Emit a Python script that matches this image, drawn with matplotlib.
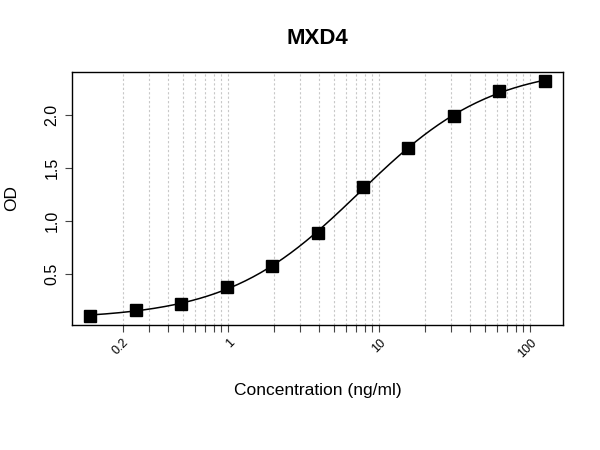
import numpy as np
from matplotlib import pyplot as plt
from matplotlib.ticker import FixedLocator, NullFormatter, NullLocator

plt.rcParams['font.family'] = ['Liberation Sans', 'DejaVu Sans']

# Standard curve data (two-fold dilutions)
conc = [0.122, 0.244, 0.488, 0.977, 1.953, 3.906, 7.8125, 15.625, 31.25, 62.5, 125]
od = [0.108, 0.159, 0.215, 0.375, 0.572, 0.888, 1.32, 1.69, 1.99, 2.227, 2.317]

grid_ticks = [0.2, 0.3, 0.4, 0.5, 0.6, 0.7, 0.8, 0.9, 1,
              2, 3, 4, 5, 6, 7, 8, 9, 10,
              20, 30, 40, 50, 60, 70, 80, 90, 100]
label_ticks = [0.2, 1, 10, 100]
label_text = ['0.2', '1', '10', '100']

x = np.array(conc)
y = np.array(od)

# 4PL fit: grid over slope and EC50, bottom/top by least squares
best = None
for b in np.linspace(0.3, 3, 271):
    for logc in np.linspace(-1, 3, 401):
        g = 1 / (1 + (x / 10**logc)**b)
        M = np.column_stack([g, 1 - g])
        coef, res, rk, sv = np.linalg.lstsq(M, y, rcond=None)
        err = np.sum((M @ coef - y)**2)
        if best is None or err < best[0]:
            best = (err, b, logc, coef)
_, b, logc, (bottom, top) = best

xs = np.logspace(np.log10(x.min()), np.log10(x.max()), 300)
gs = 1 / (1 + (xs / 10**logc)**b)
ys = bottom * gs + top * (1 - gs)

fig = plt.figure(figsize=(6, 4.5), dpi=100)
ax = fig.add_axes([0.12, 0.2778, 0.8183, 0.5622])

for t in grid_ticks:
    ax.axvline(t, color='#c8c8c8', lw=0.8, ls=(0, (2, 2)), zorder=0)

ax.plot(xs, ys, color='black', lw=1.1, zorder=2)
ax.plot(x, y, 's', color='black', ms=8, zorder=3)

ax.set_xscale('log')
lx = np.log10(x)
pad = 0.04 * (lx.max() - lx.min())
ax.set_xlim(10**(lx.min() - pad), 10**(lx.max() + pad))
pady = 0.04 * (y.max() - y.min())
ax.set_ylim(y.min() - pady, y.max() + pady)

ax.xaxis.set_major_locator(FixedLocator(grid_ticks))
ax.xaxis.set_minor_locator(NullLocator())
ax.xaxis.set_major_formatter(NullFormatter())
for t, s in zip(label_ticks, label_text):
    ax.text(t, -0.045, s, transform=ax.get_xaxis_transform(), rotation=45,
            ha='right', va='top', rotation_mode='anchor', fontsize=9)

ax.set_yticks([0.5, 1.0, 1.5, 2.0])
ax.set_yticklabels(['0.5', '1.0', '1.5', '2.0'], rotation=90, va='center', fontsize=11.5)
ax.tick_params(axis='both', direction='out', length=5, width=0.8, color='#444444')
ax.tick_params(axis='y', pad=4)

for sp in ax.spines.values():
    sp.set_linewidth(1.0)

ax.set_title('MXD4', fontsize=16, fontweight='bold', pad=20)
ax.set_xlabel('Concentration (ng/ml)', fontsize=12.5, labelpad=33)
ax.set_ylabel('OD', fontsize=12.5, labelpad=18)

fig.savefig('out.png', dpi=100)
